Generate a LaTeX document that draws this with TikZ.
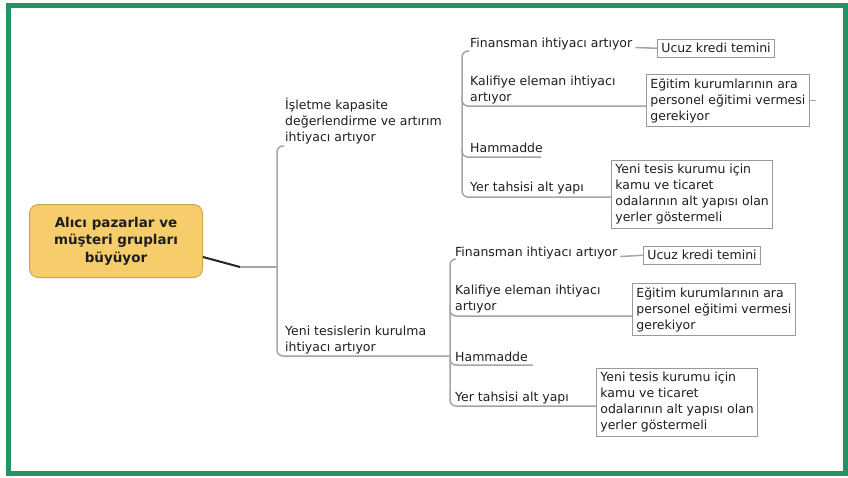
\documentclass[tikz,border=0pt]{standalone}
\usepackage{fontspec}
\setmainfont{DejaVu Sans}
\usepackage{tikz}
\usetikzlibrary{calc}

\definecolor{framegreen}{RGB}{38,146,98}
\definecolor{rootfill}{RGB}{247,205,108}
\definecolor{rootdraw}{RGB}{205,165,75}
\definecolor{linegray}{RGB}{165,165,165}
\definecolor{textgray}{RGB}{30,30,30}

\begin{document}
\begin{tikzpicture}[x=1pt,y=-1pt]
    \tikzstyle{root node}=[draw=rootdraw,fill=rootfill,rounded corners=9,line width=1,minimum width=173,minimum height=73,align=center,font=\fontsize{13.5}{17.5}\selectfont\bfseries,text=textgray]
    \tikzstyle{topic}=[inner sep=0,anchor=base west,align=left,font=\fontsize{12.5}{16}\selectfont,text=textgray]
    \tikzstyle{note box}=[draw=gray!80,line width=.8,inner sep=4,anchor=north west,align=left,font=\fontsize{12.5}{16}\selectfont,text=textgray]
    \tikzstyle{branch}=[draw=linegray,line width=1.5,rounded corners=6]
    \tikzstyle{root edge}=[draw=black!85,line width=2]

    \useasboundingbox (0,0) rectangle (848,477);
    \draw[framegreen,line width=5] (8.5,5.5) rectangle (845.5,473.5);

    \node(root)[root node] at (116,241) {Alıcı pazarlar ve\\müşteri grupları\\büyüyor};

    \node(b1)[topic] at (285,141) {İşletme kapasite\\değerlendirme ve artırım\\ihtiyacı artıyor};
    \node(b2)[topic] at (285,351) {Yeni tesislerin kurulma\\ihtiyacı artıyor};

    \node(f1)[topic] at (470,47) {Finansman ihtiyacı artıyor};
    \node(k1)[topic] at (470,101) {Kalifiye eleman ihtiyacı\\artıyor};
    \node(h1)[topic] at (470,152) {Hammadde};
    \node(y1)[topic] at (470,191) {Yer tahsisi alt yapı};
    \node(u1)[note box] at (657,39) {Ucuz kredi temini};
    \node(e1)[note box] at (646,74) {Eğitim kurumlarının ara\\personel eğitimi vermesi\\gerekiyor};
    \node(t1)[note box] at (611,160) {Yeni tesis kurumu için\\kamu ve ticaret\\odalarının alt yapısı olan\\yerler göstermeli};

    \node(f2)[topic] at (455,256) {Finansman ihtiyacı artıyor};
    \node(k2)[topic] at (455,310) {Kalifiye eleman ihtiyacı\\artıyor};
    \node(h2)[topic] at (455,361) {Hammadde};
    \node(y2)[topic] at (455,401) {Yer tahsisi alt yapı};
    \node(u2)[note box] at (643,246) {Ucuz kredi temini};
    \node(e2)[note box] at (632,283) {Eğitim kurumlarının ara\\personel eğitimi vermesi\\gerekiyor};
    \node(t2)[note box] at (596,368) {Yeni tesis kurumu için\\kamu ve ticaret\\odalarının alt yapısı olan\\yerler göstermeli};

% trunk
\coordinate (r0) at (203,257);
\coordinate (r1) at (240,267);
\coordinate (r2) at (277,267);
\coordinate (s1) at (450,356);
\draw[root edge] (r0) -- (r1);
\draw[branch] (r1) -- (r2);
\draw[branch] (284,146) -| (277,356) -- (s1);
% first group
\draw[branch] (469,51) -| (462,197) -- (t1.west |- 0,197);
\draw[branch] (462,96) |- (e1.west |- 0,106);
\draw[branch] (462,148) |- (541,157);
\draw[branch] ($(f1.east)+(3,4)$) -- (u1.west);
\draw[branch] (e1.east) -- ++(6,0);
% second group
\draw[branch] (456,259) -| (450,406) -- (t2.west |- 0,406);
\draw[branch] (450,305) |- (e2.west |- 0,316);
\draw[branch] (450,356) |- (533,365);
\draw[branch] ($(f2.east)+(3,4)$) -- (u2.west);
\end{tikzpicture}
\end{document}
